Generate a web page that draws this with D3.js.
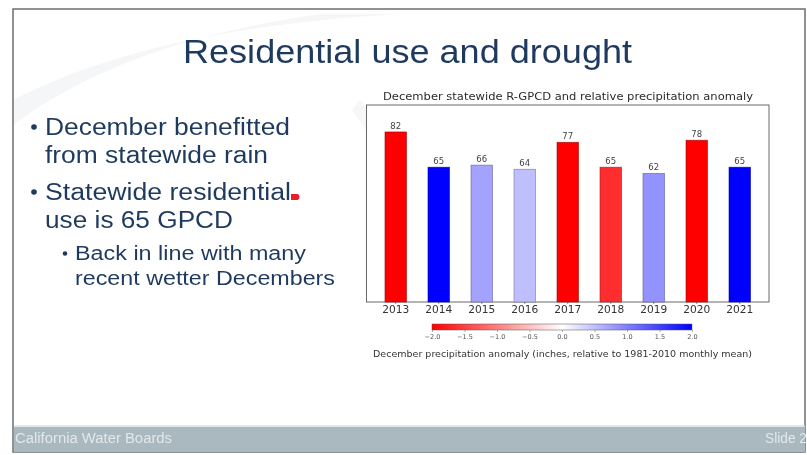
<!DOCTYPE html>
<html>
<head>
<meta charset="utf-8">
<script src="https://cdn.jsdelivr.net/npm/d3@7"></script>
<style>
  html, body { margin: 0; padding: 0; background: #ffffff; }
  svg { display: block; filter: blur(0.55px); }
</style>
</head>
<body>
<svg id="slide" width="807" height="455"></svg>
<script>
// December residential water use (R-GPCD) by year
const years = ["2013", "2014", "2015", "2016", "2017", "2018", "2019", "2020", "2021"];
const gpcd = [82, 65, 66, 64, 77, 65, 62, 78, 65];
// December precipitation anomaly, inches relative to 1981-2010 monthly mean
const anomaly = [-2.3, 2.2, 0.72, 0.5, -2.4, -1.65, 0.85, -2.2, 2.3];
const anomalyTicks = [-2.0, -1.5, -1.0, -0.5, 0.0, 0.5, 1.0, 1.5, 2.0];

const bulletLines = [
  { text: "December benefitted", level: 1, bullet: true, y: 135, len: 245 },
  { text: "from statewide rain", level: 1, bullet: false, y: 163, len: 223 },
  { text: "Statewide residential", level: 1, bullet: true, y: 200, len: 246 },
  { text: "use is 65 GPCD", level: 1, bullet: false, y: 228, len: 188 },
  { text: "Back in line with many", level: 2, bullet: true, y: 260, len: 231 },
  { text: "recent wetter Decembers", level: 2, bullet: false, y: 285, len: 260 }
];

const svg = d3.select("#slide");
const navy = "#1f3a5f";

// slide background with a faint swoosh
svg.append("rect").attr("x", 0).attr("y", 0).attr("width", 807).attr("height", 455).attr("fill", "#ffffff");
svg.append("path")
  .attr("d", "M13,100 C120,45 260,22 400,14 L320,14 C210,30 100,60 13,125 Z")
  .attr("fill", "#f5f6f7");
svg.append("path")
  .attr("d", "M360,100 C420,170 430,240 400,300 L385,300 C405,240 398,170 352,110 Z")
  .attr("fill", "#f6f7f8");

// slide frame
svg.append("rect").attr("x", 13).attr("y", 9).attr("width", 792).attr("height", 443)
  .attr("fill", "none").attr("stroke", "#6b6f73").attr("stroke-width", 1.5);

// footer band
svg.append("rect").attr("x", 14).attr("y", 427).attr("width", 791).attr("height", 25).attr("fill", "#a9b9bf");
svg.append("line").attr("x1", 14).attr("x2", 805).attr("y1", 426).attr("y2", 426)
  .attr("stroke", "#d6e0e3").attr("stroke-width", 1.5);
svg.append("text").attr("x", 15).attr("y", 443)
  .attr("font-family", "Liberation Sans, Arial, sans-serif").attr("font-size", 14)
  .attr("fill", "#e2e8eb").attr("textLength", 157).attr("lengthAdjust", "spacingAndGlyphs")
  .text("California Water Boards");
svg.append("text").attr("x", 765).attr("y", 443)
  .attr("font-family", "Liberation Sans, Arial, sans-serif").attr("font-size", 14)
  .attr("fill", "#e2e8eb").attr("textLength", 42).attr("lengthAdjust", "spacingAndGlyphs")
  .text("Slide 2");

// slide title
svg.append("text").attr("x", 183).attr("y", 63)
  .attr("font-family", "Liberation Sans, Arial, sans-serif").attr("font-size", 33)
  .attr("fill", navy).attr("textLength", 449).attr("lengthAdjust", "spacingAndGlyphs")
  .text("Residential use and drought");

// bullet text
const textG = svg.append("g").attr("font-family", "Liberation Sans, Arial, sans-serif").attr("fill", navy);
bulletLines.forEach(d => {
  const x = d.level === 1 ? 45 : 75;
  const fs = d.level === 1 ? 23 : 19.5;
  textG.append("text").attr("x", x).attr("y", d.y).attr("font-size", fs)
    .attr("textLength", d.len).attr("lengthAdjust", "spacingAndGlyphs").text(d.text);
  if (d.bullet) {
    textG.append("circle").attr("cx", d.level === 1 ? 34 : 65)
      .attr("cy", d.y - (d.level === 1 ? 8 : 6.5)).attr("r", d.level === 1 ? 2.8 : 2.3);
  }
});
// red pointer mark after "residential"
svg.append("path").attr("d", "M291,194 L298,194 Q301,197 298,200 L291,200 Z").attr("fill", "#e8202a");

// ---- bar chart ----
const ax = { left: 366.5, right: 769, top: 105, bottom: 302 };
const x = d3.scaleBand().domain(years).range([ax.left, ax.right]).paddingInner(0.5).paddingOuter(0.43);
const y = d3.scaleLinear().domain([0, 95]).range([ax.bottom, ax.top]);
const color = d3.scaleLinear().domain([-2, 0, 2]).range(["#ff0000", "#ffffff", "#0000ff"]).clamp(true);

const chart = svg.append("g").attr("font-family", "DejaVu Sans, sans-serif");

chart.append("text").attr("x", 383).attr("y", 100).attr("font-size", 10).attr("fill", "#2b2b2b")
  .attr("textLength", 370).attr("lengthAdjust", "spacingAndGlyphs")
  .text("December statewide R-GPCD and relative precipitation anomaly");

chart.append("rect").attr("x", ax.left).attr("y", ax.top)
  .attr("width", ax.right - ax.left).attr("height", ax.bottom - ax.top)
  .attr("fill", "#ffffff").attr("stroke", "#444").attr("stroke-width", 0.8);

const rows = years.map((yr, i) => ({ yr, v: gpcd[i], a: anomaly[i] }));

chart.selectAll("rect.bar").data(rows).join("rect").attr("class", "bar")
  .attr("x", d => x(d.yr)).attr("y", d => y(d.v))
  .attr("width", x.bandwidth()).attr("height", d => y(0) - y(d.v))
  .attr("fill", d => color(d.a))
  .attr("stroke", d => d3.color(color(d.a)).darker(1.5)).attr("stroke-width", 0.8).attr("stroke-opacity", 0.7);

chart.selectAll("text.val").data(rows).join("text").attr("class", "val")
  .attr("x", d => x(d.yr) + x.bandwidth() / 2).attr("y", d => y(d.v) - 3)
  .attr("text-anchor", "middle").attr("font-size", 8.5).attr("fill", "#444")
  .text(d => d.v);

const xAxis = chart.append("g").attr("transform", `translate(0,${ax.bottom})`)
  .call(d3.axisBottom(x).tickSize(2).tickPadding(2));
xAxis.select(".domain").remove();
xAxis.selectAll("line").attr("stroke", "#444").attr("stroke-width", 0.6);
xAxis.selectAll("text").attr("font-family", "DejaVu Sans, sans-serif").attr("font-size", 10.5)
  .attr("fill", "#333").attr("textLength", 27).attr("lengthAdjust", "spacingAndGlyphs");

// colorbar
const cb = { left: 432, right: 692, top: 324, bottom: 330 };
const cx = d3.scaleLinear().domain([-2, 2]).range([cb.left, cb.right]);
const grad = svg.append("defs").append("linearGradient").attr("id", "bwr")
  .attr("x1", "0%").attr("x2", "100%").attr("y1", "0%").attr("y2", "0%");
grad.selectAll("stop").data([-2, 0, 2]).join("stop")
  .attr("offset", d => ((d + 2) / 4 * 100) + "%").attr("stop-color", d => color(d));
chart.append("rect").attr("x", cb.left).attr("y", cb.top)
  .attr("width", cb.right - cb.left).attr("height", cb.bottom - cb.top)
  .attr("fill", "url(#bwr)").attr("stroke", "#555").attr("stroke-width", 0.5);
const cAxis = chart.append("g").attr("transform", `translate(0,${cb.bottom})`)
  .call(d3.axisBottom(cx).tickValues(anomalyTicks).tickFormat(d3.format(".1f")).tickSize(2).tickPadding(2.5));
cAxis.select(".domain").remove();
cAxis.selectAll("line").attr("stroke", "#666").attr("stroke-width", 0.5);
cAxis.selectAll("text").attr("font-family", "DejaVu Sans, sans-serif").attr("font-size", 6.5).attr("fill", "#555")
  .text(d => d3.format(".1f")(d).replace("-", "\u2212"));

chart.append("text").attr("x", 373).attr("y", 357).attr("font-size", 8).attr("fill", "#333")
  .attr("textLength", 379).attr("lengthAdjust", "spacingAndGlyphs")
  .text("December precipitation anomaly (inches, relative to 1981-2010 monthly mean)");
</script>
</body>
</html>
